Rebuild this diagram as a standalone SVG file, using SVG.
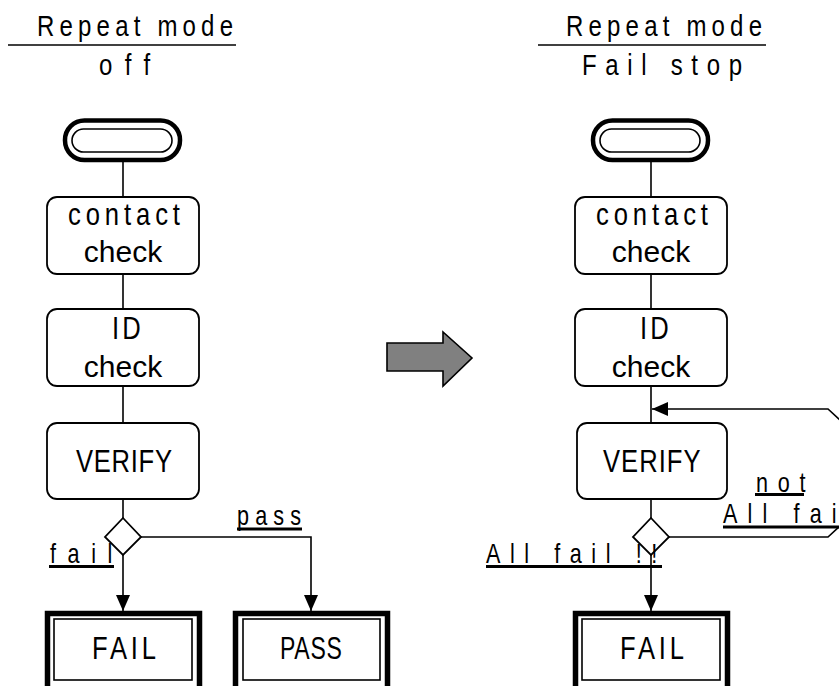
<svg xmlns="http://www.w3.org/2000/svg" width="839" height="686" viewBox="0 0 839 686">
<defs>
<style>
.t{font-family:"Liberation Sans",Arial,sans-serif;fill:#000}
.hd{font-size:30px}
.bx{font-size:32px}
.ck{font-size:30px;text-anchor:middle}
.lb{font-size:27px}
.ln{stroke:#000;stroke-width:1.6;fill:none}
.ul{stroke:#000;stroke-width:3;fill:none}
.box{fill:#fff;stroke:#000;stroke-width:1.8}
.term{fill:#fff;stroke:#000;stroke-width:4.5}
.in{fill:none;stroke:#000;stroke-width:1.6}
.end{fill:#fff;stroke:#000;stroke-width:5.5}
</style>
<marker id="ah" viewBox="0 0 16 14" refX="16" refY="7" markerWidth="16" markerHeight="14" markerUnits="userSpaceOnUse" orient="auto">
<path d="M0,0 L16,7 L0,14 Z" fill="#000"/>
</marker>
</defs>
<rect width="839" height="686" fill="#fff"/>

<g id="header-left">
<text class="t hd" transform="translate(37,36) scale(0.8,1)" textLength="245" lengthAdjust="spacing">Repeat mode</text>
<line class="ln" x1="8" y1="45" x2="236" y2="45"/>
<text class="t hd" transform="translate(99,75) scale(0.8,1)" textLength="64" lengthAdjust="spacing">off</text>
</g>
<g id="header-right">
<text class="t hd" transform="translate(566,36) scale(0.8,1)" textLength="245" lengthAdjust="spacing">Repeat mode</text>
<line class="ln" x1="538" y1="45" x2="766" y2="45"/>
<text class="t hd" transform="translate(582,75) scale(0.8,1)" textLength="200" lengthAdjust="spacing">Fail stop</text>
</g>

<g id="connectors">
<line class="ln" x1="123" y1="162" x2="123" y2="197"/>
<line class="ln" x1="123" y1="274" x2="123" y2="309"/>
<line class="ln" x1="123" y1="386" x2="123" y2="423"/>
<line class="ln" x1="123" y1="499" x2="123" y2="518"/>
<line class="ln" x1="123" y1="555" x2="123" y2="611" marker-end="url(#ah)"/>
<polyline class="ln" points="141,537 311,537 311,611" marker-end="url(#ah)"/>
<line class="ln" x1="651" y1="162" x2="651" y2="197"/>
<line class="ln" x1="651" y1="274" x2="651" y2="309"/>
<line class="ln" x1="651" y1="386" x2="651" y2="423"/>
<line class="ln" x1="651" y1="499" x2="651" y2="518"/>
<line class="ln" x1="651" y1="555" x2="651" y2="611" marker-end="url(#ah)"/>
<path class="ln" d="M669,537 H828 L841,525 V421 L828,409 H652" marker-end="url(#ah)"/>
</g>

<g id="start-left">
<rect class="term" x="65" y="120.5" width="115" height="39.5" rx="19.5"/>
<rect class="in" x="72" y="129" width="100" height="23" rx="11.5"/>
</g>
<g id="contact-left">
<rect class="box" x="47" y="197" width="152" height="77" rx="10"/>
<text class="t bx" transform="translate(68,225) scale(0.8,1)" textLength="140" lengthAdjust="spacing">contact</text>
<text class="t ck" x="123" y="262">check</text>
</g>
<g id="id-left">
<rect class="box" x="47" y="309" width="152" height="77" rx="10"/>
<text class="t bx" transform="translate(112,339) scale(0.8,1)" textLength="36" lengthAdjust="spacing">ID</text>
<text class="t ck" x="123" y="377">check</text>
</g>
<g id="verify-left">
<rect class="box" x="47" y="423" width="152" height="76" rx="10"/>
<text class="t bx" transform="translate(76,472) scale(0.8,1)" textLength="120" lengthAdjust="spacing">VERIFY</text>
</g>
<g id="decision-left">
<polygon class="box" points="123,518 141,537 123,555 105,537"/>
</g>
<g id="label-pass">
<text class="t lb" transform="translate(237,525) scale(0.8,1)" textLength="80" lengthAdjust="spacing">pass</text>
<line class="ul" x1="237" y1="529" x2="302" y2="529"/>
</g>
<g id="label-fail">
<text class="t lb" transform="translate(50,563) scale(0.8,1)" textLength="78" lengthAdjust="spacing">fail</text>
<line class="ul" x1="49" y1="566.5" x2="114" y2="566.5"/>
</g>
<g id="fail-left">
<rect class="end" x="47.5" y="613.5" width="152" height="90"/>
<rect class="in" x="54" y="619" width="138" height="61"/>
<text class="t bx" transform="translate(92,659) scale(0.8,1)" textLength="80" lengthAdjust="spacing">FAIL</text>
</g>
<g id="pass-left">
<rect class="end" x="235.5" y="613.5" width="152" height="90"/>
<rect class="in" x="243" y="619" width="137" height="61"/>
<text class="t bx" transform="translate(280,659) scale(0.72,1)" textLength="86" lengthAdjust="spacing">PASS</text>
</g>

<g id="transition-arrow">
<polygon points="387,343 443,343 443,332 472,358 443,386 443,371 387,371" fill="#808080" stroke="#000" stroke-width="1.6" stroke-linejoin="miter"/>
</g>

<g id="start-right">
<rect class="term" x="593" y="120.5" width="115" height="39.5" rx="19.5"/>
<rect class="in" x="600" y="129" width="100" height="23" rx="11.5"/>
</g>
<g id="contact-right">
<rect class="box" x="575" y="197" width="152" height="77" rx="10"/>
<text class="t bx" transform="translate(596,225) scale(0.8,1)" textLength="140" lengthAdjust="spacing">contact</text>
<text class="t ck" x="651" y="262">check</text>
</g>
<g id="id-right">
<rect class="box" x="575" y="309" width="152" height="77" rx="10"/>
<text class="t bx" transform="translate(640,339) scale(0.8,1)" textLength="36" lengthAdjust="spacing">ID</text>
<text class="t ck" x="651" y="377">check</text>
</g>
<g id="verify-right">
<rect class="box" x="577" y="423" width="150" height="76" rx="10"/>
<text class="t bx" transform="translate(603,472) scale(0.8,1)" textLength="122" lengthAdjust="spacing">VERIFY</text>
</g>
<g id="decision-right">
<polygon class="box" points="651,518 669,537 651,555 633,537"/>
</g>
<g id="label-not-all-fail">
<text class="t lb" transform="translate(756,492) scale(0.8,1)" textLength="62" lengthAdjust="spacing">not</text>
<line class="ul" x1="755" y1="494.5" x2="804" y2="494.5"/>
<text class="t lb" transform="translate(723,523) scale(0.8,1)" textLength="142" lengthAdjust="spacing">All fai</text>
<line class="ul" x1="723" y1="527" x2="839" y2="527"/>
</g>
<g id="label-all-fail">
<text class="t lb" transform="translate(486,563) scale(0.8,1)" textLength="214" lengthAdjust="spacing">All fail !!</text>
<line class="ul" x1="486" y1="566.5" x2="662" y2="566.5"/>
</g>
<g id="fail-right">
<rect class="end" x="575.5" y="613.5" width="152" height="90"/>
<rect class="in" x="582" y="619" width="138" height="61"/>
<text class="t bx" transform="translate(620,659) scale(0.8,1)" textLength="80" lengthAdjust="spacing">FAIL</text>
</g>
</svg>
